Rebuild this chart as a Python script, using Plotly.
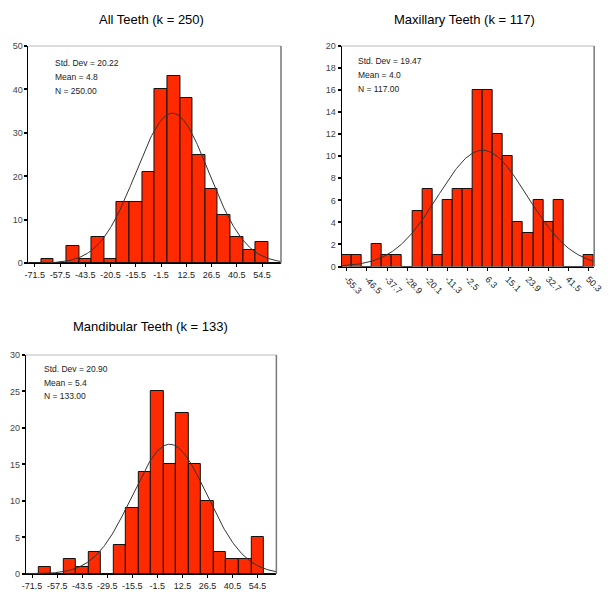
import numpy as np
import plotly.graph_objects as go

W, H = 611, 592

# ---------------- data ----------------
all_centers = [-71.5, -64.5, -57.5, -50.5, -43.5, -36.5, -29.5, -22.5, -15.5, -8.5,
               -1.5, 5.5, 12.5, 19.5, 26.5, 33.5, 40.5, 47.5, 54.5, 61.5]
all_counts = [0, 1, 0, 4, 1, 6, 1, 14, 14, 21, 40, 43, 38, 25, 17, 11, 6, 3, 5, 0]
all_ticks = [-71.5, -57.5, -43.5, -29.5, -15.5, -1.5, 12.5, 26.5, 40.5, 54.5]
all_ticktext = ["-71.5", "-57.5", "-43.5", "-20.5", "-15.5", "-1.5", "12.5", "26.5", "40.5", "54.5"]
all_stats = {"sd": 20.22, "mean": 4.8, "n": 250, "bin": 7.0}

max_centers = [-55.3, -50.9, -46.5, -42.1, -37.7, -33.3, -28.9, -24.5, -20.1, -15.7,
               -11.3, -6.9, -2.5, 1.9, 6.3, 10.7, 15.1, 19.5, 23.9, 28.3,
               32.7, 37.1, 41.5, 45.9, 50.3]
max_counts = [1, 1, 0, 2, 1, 1, 0, 5, 7, 1, 6, 7, 7, 16, 16, 12, 10, 4, 3, 6, 4, 6, 0, 0, 1]
max_ticks = [-55.3, -46.5, -37.7, -28.9, -20.1, -11.3, -2.5, 6.3, 15.1, 23.9, 32.7, 41.5, 50.3]
max_ticktext = ["-55.3", "-46.5", "-37.7", "-28.9", "-20.1", "-11.3", "-2.5", "6.3", "15.1",
                "23.9", "32.7", "41.5", "50.3"]
max_stats = {"sd": 19.47, "mean": 4.0, "n": 117, "bin": 4.4}

man_centers = all_centers
man_counts = [0, 1, 0, 2, 1, 3, 0, 4, 9, 14, 25, 15, 22, 15, 10, 3, 2, 2, 5, 0]
man_ticks = [-71.5, -57.5, -43.5, -29.5, -15.5, -1.5, 12.5, 26.5, 40.5, 54.5]
man_ticktext = ["-71.5", "-57.5", "-43.5", "-29.5", "-15.5", "-1.5", "12.5", "26.5", "40.5", "54.5"]
man_stats = {"sd": 20.90, "mean": 5.4, "n": 133, "bin": 7.0}

titles = ["All Teeth (k = 250)", "Maxillary Teeth (k = 117)", "Mandibular Teeth (k = 133)"]

# ---------------- layout helpers ----------------
def px_x(p):
    return p / W

def px_y(p):
    return 1 - p / H

FONT = "Liberation Sans, Arial, sans-serif"
BAR = "#FF2A00"

panels = [
    dict(centers=all_centers, counts=all_counts, ticks=all_ticks, ticktext=all_ticktext,
         stats=all_stats, xr=[-75, 65], yr=[0, 50], dtick=10, box=(25, 283, 41.7, 262.7), angle=0,
         title_xy=(151, 15), stat_xy=(50, 59.5)),
    dict(centers=max_centers, counts=max_counts, ticks=max_ticks, ticktext=max_ticktext,
         stats=max_stats, xr=[-57.5, 52.7], yr=[0, 20], dtick=2, box=(345, 603, 41.7, 266), angle=45,
         title_xy=(470, 15), stat_xy=(360, 57)),
    dict(centers=man_centers, counts=man_counts, ticks=man_ticks, ticktext=man_ticktext,
         stats=man_stats, xr=[-75, 65], yr=[0, 30], dtick=5, box=(22.3, 278.3, 356, 578.7), angle=0,
         title_xy=(150, 327), stat_xy=(39, 370)),
]

fig = go.Figure()
annotations = []
shapes = []

for i, p in enumerate(panels, start=1):
    xa = "x" if i == 1 else f"x{i}"
    ya = "y" if i == 1 else f"y{i}"
    st = p["stats"]
    fig.add_trace(go.Bar(
        x=p["centers"], y=p["counts"], width=st["bin"],
        marker=dict(color=BAR, line=dict(color="#111111", width=1)),
        xaxis=xa, yaxis=ya, showlegend=False, hoverinfo="x+y",
    ))
    # fitted normal curve from the displayed statistics
    xs = np.linspace(p["xr"][0], p["xr"][1], 300)
    ys = st["n"] * st["bin"] / (st["sd"] * np.sqrt(2 * np.pi)) * np.exp(-0.5 * ((xs - st["mean"]) / st["sd"]) ** 2)
    fig.add_trace(go.Scatter(
        x=xs, y=ys, mode="lines", line=dict(color="#333333", width=1),
        xaxis=xa, yaxis=ya, showlegend=False, hoverinfo="skip",
    ))

    l, r, t, b = p["box"]
    xkey = "xaxis" if i == 1 else f"xaxis{i}"
    ykey = "yaxis" if i == 1 else f"yaxis{i}"
    fig.layout[xkey] = dict(
        domain=[px_x(l), px_x(r)], range=p["xr"], anchor=ya,
        tickmode="array", tickvals=p["ticks"], ticktext=p["ticktext"], tickangle=p["angle"],
        showline=True, linecolor="#000000", linewidth=1, ticks="outside", ticklen=3,
        tickcolor="#000000", showgrid=False, zeroline=False, ticklabeloverflow="allow",
        tickfont=dict(family=FONT, size=9, color="#222222"),
    )
    fig.layout[ykey] = dict(
        domain=[px_y(b), px_y(t)], range=p["yr"], anchor=xa, dtick=p["dtick"],
        showline=True, linecolor="#000000", linewidth=1, ticks="outside", ticklen=3,
        tickwidth=2, tickcolor="#000000", showgrid=False, zeroline=False,
        tickfont=dict(family=FONT, size=9, color="#444444"),
    )
    shapes.append(dict(type="line", xref=f"{xa} domain", yref=f"{ya} domain",
                       x0=0, x1=1, y0=1, y1=1, line=dict(color="#BBBBBB", width=1)))
    shapes.append(dict(type="line", xref=f"{xa} domain", yref=f"{ya} domain",
                       x0=1, x1=1, y0=0, y1=1, line=dict(color="#777777", width=1.5)))

    tx, ty = p["title_xy"]
    annotations.append(dict(text=titles[i - 1], x=px_x(tx), y=px_y(ty), xref="paper", yref="paper",
                            showarrow=False, xanchor="center", yanchor="middle",
                            font=dict(family=FONT, size=13, color="#000000")))
    sx, sy = p["stat_xy"]
    lines = [f"Std. Dev = {st['sd']:.2f}", f"Mean = {st['mean']:.1f}", f"N = {st['n']:.2f}"]
    for k, txt in enumerate(lines):
        annotations.append(dict(text=txt, x=px_x(sx), y=px_y(sy + 14 * k), xref="paper", yref="paper",
                                showarrow=False, xanchor="left", yanchor="middle",
                                font=dict(family=FONT, size=8.5, color="#222222")))

fig.update_layout(
    width=W, height=H, margin=dict(l=0, r=0, t=0, b=0),
    paper_bgcolor="white", plot_bgcolor="white",
    bargap=0, annotations=annotations, shapes=shapes,
    font=dict(family=FONT),
)

fig.write_html("out.html", config={"displayModeBar": False},
               post_script="document.body.style.margin='0px';document.body.style.overflow='hidden';")
